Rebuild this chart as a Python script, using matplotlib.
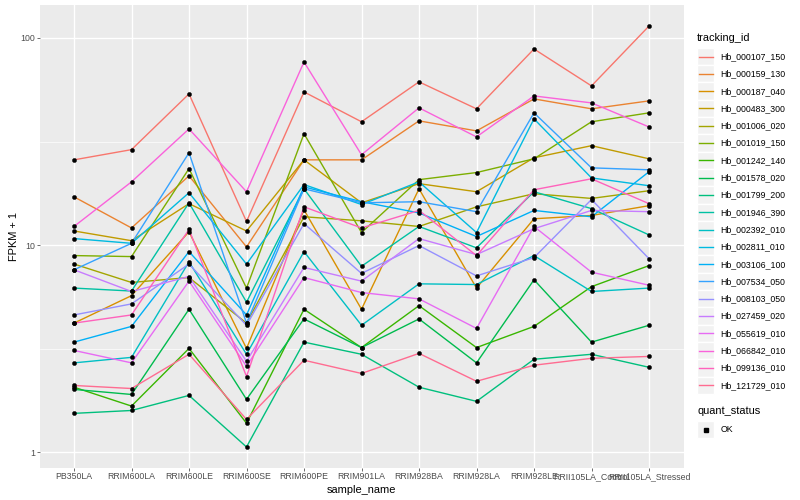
import numpy as np
import matplotlib
matplotlib.use("Agg")
import matplotlib.pyplot as plt
from matplotlib.lines import Line2D
from matplotlib.patches import Rectangle
from matplotlib.legend_handler import HandlerBase
from matplotlib.ticker import FixedLocator, NullFormatter, FixedFormatter

plt.rcParams['font.family'] = ['Liberation Sans', 'DejaVu Sans']

# ---------------- data (FPKM + 1) ----------------
samples = ["PB350LA", "RRIM600LA", "RRIM600LE", "RRIM600SE", "RRIM600PE",
           "RRIM901LA", "RRIM928BA", "RRIM928LA", "RRIM928LE",
           "RRII105LA_Control", "RRII105LA_Stressed"]

tracking_ids = ["Hb_000107_150", "Hb_000159_130", "Hb_000187_040", "Hb_000483_300",
                "Hb_001006_020", "Hb_001019_150", "Hb_001242_140", "Hb_001578_020",
                "Hb_001799_200", "Hb_001946_390", "Hb_002392_010", "Hb_002811_010",
                "Hb_003106_100", "Hb_007534_050", "Hb_008103_050", "Hb_027459_020",
                "Hb_055619_010", "Hb_066842_010", "Hb_099136_010", "Hb_121729_010"]

hb_000107_150 = [25.8, 28.9, 53.7, 13.0, 54.9, 39.4, 61.4, 45.5, 88.5, 58.7, 114.2]
hb_000159_130 = [17.1, 12.1, 21.6, 9.8, 25.8, 25.8, 39.8, 35.6, 50.8, 45.5, 49.7]
hb_000187_040 = [4.2, 5.7, 11.6, 3.17, 14.8, 4.9, 18.7, 6.2, 13.4, 13.9, 15.5]
hb_000483_300 = [11.7, 10.5, 15.85, 11.7, 25.8, 16.0, 19.8, 18.1, 26.4, 30.2, 26.1]
hb_001006_020 = [8.1, 6.6, 6.97, 4.2, 13.7, 13.1, 12.3, 15.3, 17.7, 16.8, 18.3]
hb_001019_150 = [8.9, 8.8, 23.4, 6.2, 34.5, 11.5, 20.7, 22.4, 26.1, 39.4, 43.5]
hb_001242_140 = [2.06, 1.67, 3.17, 1.38, 4.9, 3.2, 5.1, 3.2, 4.05, 6.3, 7.96]
hb_001578_020 = [2.01, 1.9, 4.9, 1.8, 4.4, 3.2, 4.4, 2.7, 6.8, 3.4, 4.1]
hb_001799_200 = [1.54, 1.59, 1.88, 1.06, 3.4, 2.97, 2.06, 1.76, 2.81, 2.97, 2.57]
hb_001946_390 = [6.2, 6.0, 16.0, 5.3, 18.7, 7.9, 12.3, 9.7, 18.1, 15.0, 11.2]
hb_002392_010 = [2.7, 2.87, 8.3, 2.97, 9.3, 4.1, 6.5, 6.45, 8.9, 5.97, 6.2]
hb_002811_010 = [10.75, 10.2, 17.9, 8.1, 19.6, 15.7, 20.2, 11.5, 40.7, 21.1, 19.35]
hb_003106_100 = [3.4, 4.05, 9.3, 4.6, 19.1, 16.2, 14.3, 11.0, 14.7, 13.7, 22.6]
hb_007534_050 = [7.6, 10.2, 27.9, 4.2, 18.7, 16.0, 16.2, 14.5, 43.5, 23.6, 23.1]
hb_008103_050 = [4.6, 5.2, 8.1, 4.1, 12.7, 7.3, 9.95, 7.1, 8.7, 16.6, 8.6]
hb_027459_020 = [7.6, 5.97, 7.05, 2.75, 7.8, 6.7, 10.75, 9.0, 12.0, 14.7, 14.5]
hb_055619_010 = [3.1, 2.7, 6.7, 2.6, 6.97, 5.9, 5.5, 3.96, 12.3, 7.4, 6.4]
hb_066842_010 = [12.3, 20.2, 36.4, 18.1, 76.6, 27.3, 46.0, 33.3, 52.5, 48.6, 37.2]
hb_099136_010 = [4.2, 4.6, 11.9, 2.32, 15.3, 12.1, 14.7, 8.9, 18.5, 20.9, 15.85]
hb_121729_010 = [2.1, 2.03, 2.97, 1.44, 2.78, 2.4, 3.0, 2.2, 2.63, 2.84, 2.9]

series = [hb_000107_150, hb_000159_130, hb_000187_040, hb_000483_300,
          hb_001006_020, hb_001019_150, hb_001242_140, hb_001578_020,
          hb_001799_200, hb_001946_390, hb_002392_010, hb_002811_010,
          hb_003106_100, hb_007534_050, hb_008103_050, hb_027459_020,
          hb_055619_010, hb_066842_010, hb_099136_010, hb_121729_010]

quant_status = ["OK"]

y_breaks = [1, 10, 100]
y_labels = ["1", "10", "100"]

# ggplot2 default hue palette for 20 levels
colors = ["#F8766D", "#EA8331", "#D89000", "#C09B00", "#A3A500", "#7CAE00",
          "#39B600", "#00BB4E", "#00BF7D", "#00C1A3", "#00BFC4", "#00BAE0",
          "#00B0F6", "#35A2FF", "#9590FF", "#C77CFF", "#E76BF3", "#FA62DB",
          "#FF62BC", "#FF6C91"]

# ---------------- figure ----------------
W, H = 800, 500
fig = plt.figure(figsize=(W / 100, H / 100), dpi=100)
fig.patch.set_facecolor("white")

left_px, right_px, top_px, bottom_px = 39.5, 683.5, 5, 468
ax = fig.add_axes([left_px / W, 1 - bottom_px / H,
                   (right_px - left_px) / W, (bottom_px - top_px) / H])
ax.set_facecolor("#EBEBEB")
for s in ax.spines.values():
    s.set_visible(False)

x = np.arange(len(samples))
ax.set_yscale("log")

for vals, col in zip(series, colors):
    ax.plot(x, vals, color=col, lw=1.0, zorder=3, solid_capstyle="butt")
for vals in series:
    ax.plot(x, vals, linestyle="none", marker="o", ms=3.0, mfc="black",
            mec="black", mew=0.3, zorder=4)

allv = np.concatenate([np.asarray(v, float) for v in series])
llo, lhi = np.log10(allv.min()), np.log10(allv.max())
pad = 0.05 * (lhi - llo)
ax.set_ylim(10 ** (llo - pad), 10 ** (lhi + pad))
ax.set_xlim(-0.6, len(samples) - 1 + 0.6)

ax.yaxis.set_major_locator(FixedLocator(y_breaks))
ax.yaxis.set_major_formatter(FixedFormatter(y_labels))
minor = [10 ** (np.log10(b) + 0.5) for b in y_breaks]
ax.yaxis.set_minor_locator(FixedLocator(minor))
ax.yaxis.set_minor_formatter(NullFormatter())
ax.set_xticks(x)
ax.set_xticklabels(samples)

ax.grid(which="major", color="white", lw=1.0, zorder=1)
ax.grid(which="minor", axis="y", color="white", lw=0.5, zorder=1)
ax.set_axisbelow(True)

ax.tick_params(axis="both", which="major", length=2.0, width=0.5,
               color="#333333", labelcolor="#4D4D4D", labelsize=6.3, pad=1.2)
ax.tick_params(axis="y", which="minor", length=0)

ax.set_xlabel("sample_name", fontsize=7.9, color="black", labelpad=2.5)
ax.set_ylabel("FPKM + 1", fontsize=7.9, color="black", labelpad=1)


# ---------------- legends (ggplot style keys) ----------------
class KeyHandler(HandlerBase):
    def create_artists(self, legend, orig_handle, xdescent, ydescent,
                       width, height, fontsize, trans):
        bg = Rectangle((-xdescent, -ydescent), width, height,
                       facecolor="#F2F2F2", edgecolor="white", lw=1.0,
                       transform=trans)
        yc = -ydescent + height / 2
        arts = [bg]
        if orig_handle.get_linestyle() not in ("None", "none", ""):
            arts.append(Line2D([-xdescent + width * 0.1, -xdescent + width * 0.9],
                               [yc, yc], color=orig_handle.get_color(),
                               lw=orig_handle.get_linewidth(), transform=trans))
        if orig_handle.get_marker() not in (None, "None", "none", ""):
            arts.append(Line2D([-xdescent + width / 2], [yc], linestyle="none",
                               marker=orig_handle.get_marker(),
                               ms=orig_handle.get_markersize(),
                               mfc="black", mec="black", transform=trans))
        return arts


lfs = 6.3
key_pt = 17.3 * 0.72
hh = 2.665
common = dict(frameon=False, fontsize=lfs, handlelength=key_pt / lfs,
              handleheight=hh, labelspacing=0.0, handletextpad=0.7,
              borderpad=0.0, borderaxespad=0.0, loc="upper left",
              title_fontsize=7.9, alignment="left")

h1 = [Line2D([], [], color=c, lw=1.0) for c in colors]
leg1 = fig.legend(h1, tracking_ids, title="tracking_id",
                  bbox_to_anchor=(697 / W, 1 - 33 / H),
                  handler_map={Line2D: KeyHandler()}, **common)
leg1._legend_box.sep = 3.5

h2 = [Line2D([], [], linestyle="none", marker="s", ms=2.6, color="black")]
leg2 = fig.legend(h2, quant_status, title="quant_status",
                  bbox_to_anchor=(697 / W, 1 - 406 / H),
                  handler_map={Line2D: KeyHandler()}, **common)
leg2._legend_box.sep = 3.5

fig.savefig("out.png", dpi=100, facecolor="white")
